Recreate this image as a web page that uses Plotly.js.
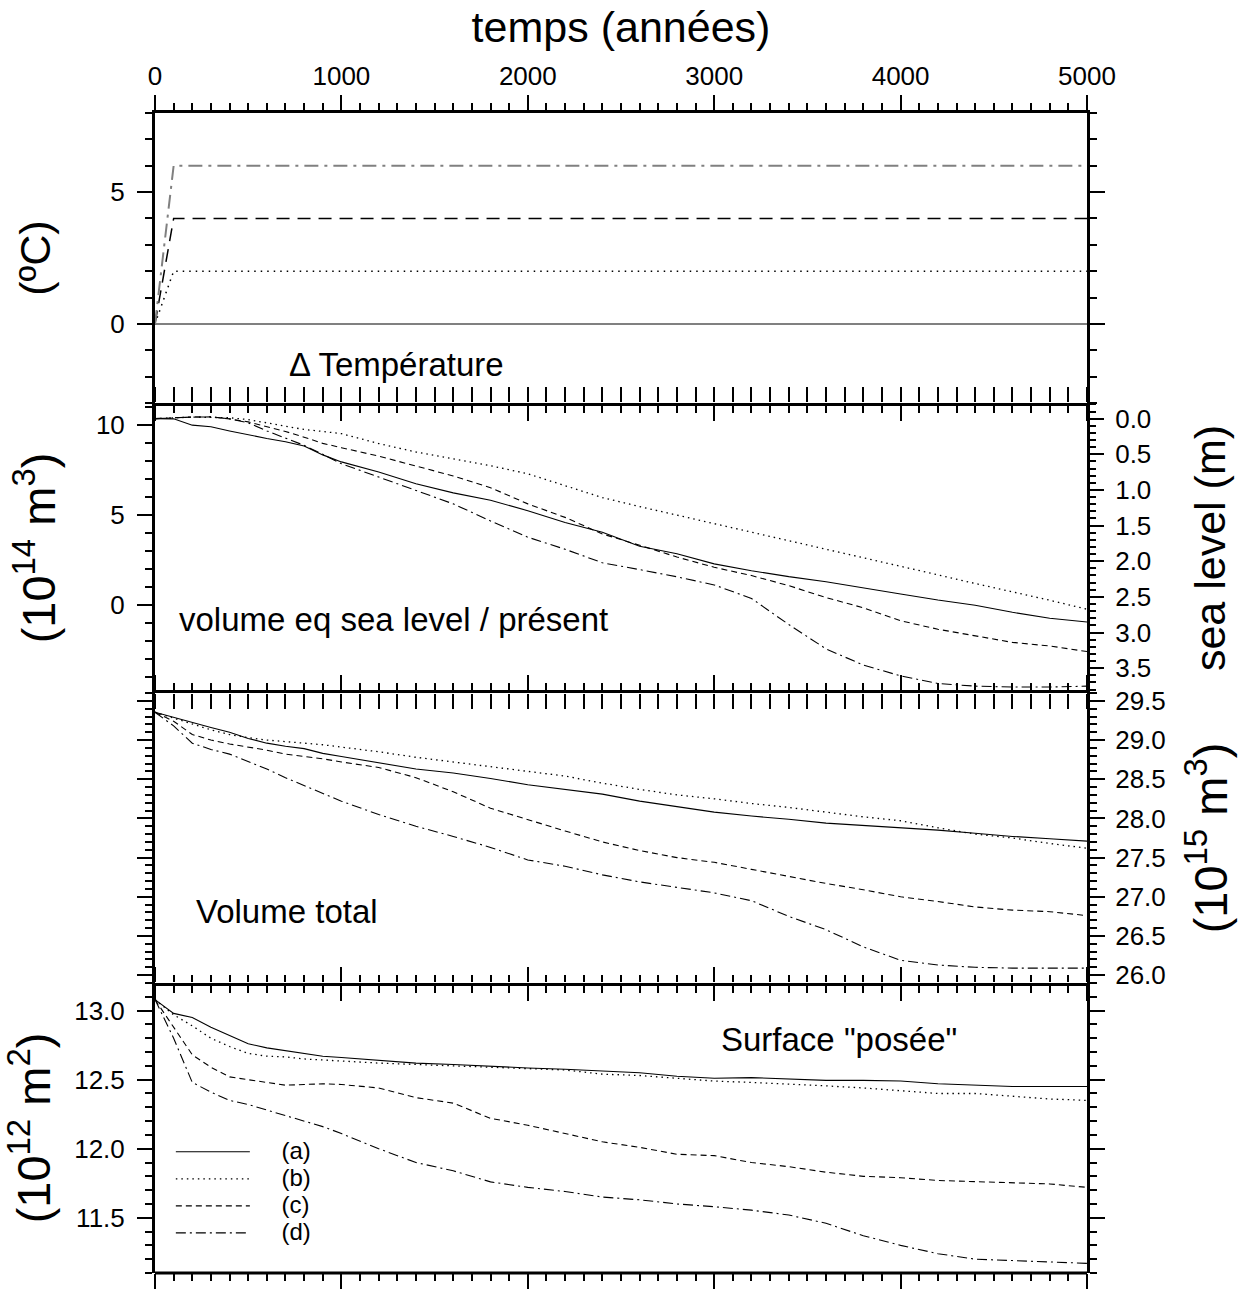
<!DOCTYPE html>
<html>
<head>
<meta charset="utf-8">
<script src="https://cdn.plot.ly/plotly-3.0.1.min.js"></script>
<style>
  html, body { margin: 0; padding: 0; background: #fff; }
  #chart { width: 1238px; height: 1289px; }
</style>
</head>
<body>
<div id="chart"></div>
<script>
// ---------- DATA ----------
const seriesNames = ["(a)", "(b)", "(c)", "(d)"];

// Panel 1 : temperature anomaly (°C)
const yearsTemp = [0, 100, 5000];
const tempA = [0, 0, 0];
const tempB = [0, 2, 2];
const tempC = [0, 4, 4];
const tempD = [0, 6, 6];

// common time grid used for panels 2-4 (years)
const years = [0,100,200,300,400,500,600,700,800,900,1000,1200,1400,1600,1800,2000,
               2200,2400,2600,2800,3000,3200,3400,3600,3800,4000,4200,4400,4600,4800,5000];

// Panel 2 : volume eq. sea level / present (10^14 m3)
const volSlA = [10.33,10.32,9.97,9.88,9.65,9.43,9.23,9.05,8.81,8.32,7.93,7.37,6.72,6.21,5.80,5.22,
                4.57,4.02,3.25,2.83,2.27,1.89,1.56,1.28,0.96,0.60,0.26,-0.03,-0.42,-0.75,-0.96];
const volSlB = [10.33,10.38,10.42,10.40,10.38,10.28,10.10,9.92,9.73,9.62,9.50,8.95,8.48,8.10,7.72,7.27,
                6.60,5.95,5.45,4.98,4.52,4.05,3.58,3.10,2.62,2.15,1.66,1.18,0.72,0.25,-0.25];
const volSlC = [10.33,10.38,10.42,10.43,10.32,10.15,9.90,9.62,9.30,8.96,8.72,8.25,7.70,7.15,6.50,5.60,
                4.85,3.93,3.30,2.65,2.08,1.62,1.06,0.40,-0.17,-0.89,-1.36,-1.74,-2.09,-2.29,-2.60];
const volSlD = [10.33,10.38,10.42,10.43,10.32,10.10,9.65,9.25,8.85,8.35,7.83,7.09,6.35,5.60,4.65,3.75,
                3.08,2.33,1.95,1.55,1.10,0.35,-1.10,-2.45,-3.35,-3.95,-4.37,-4.52,-4.57,-4.57,-4.52];
// sea-level axis : 0 m at 10.33 (10^14 m3), 1 m = 3.957 (10^14 m3)
const seaLevelRef = 10.33;
const volPerMetre = 3.957;
const seaLevelTicks = [0.0, 0.5, 1.0, 1.5, 2.0, 2.5, 3.0, 3.5];

// Panel 3 : total volume (10^15 m3)
const volTotA = [29.355,29.29,29.22,29.16,29.10,29.02,28.96,28.92,28.89,28.83,28.79,28.71,28.63,28.58,28.51,28.43,
                 28.37,28.31,28.22,28.15,28.08,28.03,27.99,27.94,27.91,27.88,27.85,27.81,27.77,27.74,27.71];
const volTotB = [29.355,29.28,29.21,29.13,29.07,29.03,29.00,28.98,28.96,28.94,28.91,28.85,28.78,28.72,28.66,28.60,
                 28.54,28.45,28.37,28.30,28.25,28.19,28.14,28.08,28.02,27.97,27.88,27.80,27.75,27.68,27.62];
const volTotC = [29.355,29.24,29.07,29.00,28.95,28.91,28.87,28.82,28.79,28.76,28.72,28.65,28.52,28.34,28.13,27.98,
                 27.84,27.70,27.59,27.50,27.44,27.35,27.26,27.17,27.09,27.00,26.94,26.87,26.83,26.81,26.76];
const volTotD = [29.355,29.18,28.96,28.88,28.82,28.73,28.63,28.52,28.42,28.31,28.22,28.05,27.90,27.77,27.63,27.47,
                 27.39,27.28,27.19,27.12,27.05,26.95,26.75,26.58,26.36,26.19,26.13,26.10,26.09,26.09,26.09];

// Panel 4 : grounded surface (10^12 m2)
const surfA = [13.08,12.98,12.95,12.88,12.82,12.76,12.73,12.71,12.69,12.67,12.66,12.64,12.62,12.61,12.595,12.585,
               12.575,12.56,12.55,12.525,12.51,12.515,12.505,12.495,12.495,12.49,12.47,12.46,12.45,12.45,12.45];
const surfB = [13.08,12.97,12.89,12.80,12.74,12.69,12.67,12.665,12.65,12.64,12.635,12.62,12.61,12.605,12.59,12.58,
               12.57,12.54,12.53,12.51,12.49,12.48,12.47,12.455,12.44,12.42,12.40,12.40,12.38,12.36,12.35];
const surfC = [13.08,12.88,12.68,12.59,12.52,12.50,12.48,12.46,12.465,12.47,12.465,12.44,12.37,12.33,12.22,12.17,
               12.11,12.05,12.01,11.96,11.95,11.90,11.87,11.83,11.80,11.79,11.77,11.76,11.75,11.745,11.72];
const surfD = [13.08,12.80,12.48,12.41,12.35,12.32,12.28,12.24,12.20,12.16,12.11,12.00,11.90,11.84,11.76,11.72,
               11.69,11.65,11.63,11.60,11.58,11.555,11.52,11.46,11.37,11.30,11.24,11.20,11.19,11.18,11.17];

// ---------- STYLE ----------
const FONT = "Liberation Sans, Arial, Helvetica, sans-serif";
const thin = {
  a: {color: "#000", width: 1.1, dash: "solid"},
  b: {color: "#000", width: 1.3, dash: "1.5px,4px"},
  c: {color: "#000", width: 1.1, dash: "6px,4px"},
  d: {color: "#000", width: 1.1, dash: "10px,4px,2px,4px"}
};
const thick = {
  a: {color: "#808080", width: 2, dash: "solid"},
  b: {color: "#000", width: 1.5, dash: "1.5px,5px"},
  c: {color: "#000", width: 1.5, dash: "13px,8px"},
  d: {color: "#808080", width: 2, dash: "14px,6px,3px,6px"}
};
function legendLabel(name) {
  return '<span style="font-size:24px">\u00a0\u00a0\u00a0\u00a0' + name + '</span>';
}

function tr(x, y, xa, ya, line, name, legend) {
  return {x: x, y: y, xaxis: xa, yaxis: ya, type: "scatter", mode: "lines",
          line: line, name: legend ? legendLabel(name) : name, showlegend: !!legend, hoverinfo: "skip"};
}

const traces = [
  tr(yearsTemp, tempA, "x", "y", thick.a, seriesNames[0]),
  tr(yearsTemp, tempB, "x", "y", thick.b, seriesNames[1]),
  tr(yearsTemp, tempC, "x", "y", thick.c, seriesNames[2]),
  tr(yearsTemp, tempD, "x", "y", thick.d, seriesNames[3]),
  tr(years, volSlA, "x2", "y2", thin.a, seriesNames[0]),
  tr(years, volSlB, "x2", "y2", thin.b, seriesNames[1]),
  tr(years, volSlC, "x2", "y2", thin.c, seriesNames[2]),
  tr(years, volSlD, "x2", "y2", thin.d, seriesNames[3]),
  // empty trace so that the sea-level axis (y5) gets its own subplot
  {x: [], y: [], xaxis: "x2", yaxis: "y5", type: "scatter", mode: "lines", showlegend: false, hoverinfo: "skip"},
  tr(years, volTotA, "x3", "y3", thin.a, seriesNames[0]),
  tr(years, volTotB, "x3", "y3", thin.b, seriesNames[1]),
  tr(years, volTotC, "x3", "y3", thin.c, seriesNames[2]),
  tr(years, volTotD, "x3", "y3", thin.d, seriesNames[3]),
  tr(years, surfA, "x4", "y4", thin.a, seriesNames[0], true),
  tr(years, surfB, "x4", "y4", thin.b, seriesNames[1], true),
  tr(years, surfC, "x4", "y4", thin.c, seriesNames[2], true),
  tr(years, surfD, "x4", "y4", thin.d, seriesNames[3], true)
];

const tickFont = {family: FONT, size: 26, color: "#000"};
const titleFont = {family: FONT, size: 43, color: "#000"};
const supTitleFont = {family: FONT, size: 47, color: "#000"};

function xAxis(anchor, extra) {
  return Object.assign({
    anchor: anchor, domain: [0, 1], range: [0, 5000], tick0: 0, dtick: 1000,
    ticks: "outside", ticklen: 15, tickwidth: 2, tickcolor: "#000",
    minor: {dtick: 100, ticks: "outside", ticklen: 7, tickwidth: 2, tickcolor: "#000", showgrid: false},
    showline: true, linewidth: 3, linecolor: "#000", mirror: "allticks",
    showgrid: false, zeroline: false, showticklabels: false, tickfont: tickFont
  }, extra || {});
}
function yAxis(anchor, domain, range, dtick, minorDtick, extra) {
  return Object.assign({
    anchor: anchor, domain: domain, range: range, tick0: 0, dtick: dtick,
    ticks: "outside", ticklen: 15, tickwidth: 2, tickcolor: "#000",
    minor: {dtick: minorDtick, tick0: 0, ticks: "outside", ticklen: 7, tickwidth: 2, tickcolor: "#000", showgrid: false},
    showline: true, linewidth: 3, linecolor: "#000", mirror: "allticks",
    showgrid: false, zeroline: false, tickfont: tickFont, ticklabelstandoff: 7
  }, extra || {});
}

const vLow = -4.9, vHigh = 11.2;
const annFont = {family: FONT, size: 33, color: "#000"};

const layout = {
  width: 1238, height: 1289,
  margin: {l: 155, r: 151, t: 113, b: 16, pad: 0},
  paper_bgcolor: "#fff", plot_bgcolor: "#fff",
  font: {family: FONT, color: "#000"},
  showlegend: true,
  legend: {
    x: 0.017, y: 0.1205, xanchor: "left", yanchor: "top",
    bgcolor: "rgba(0,0,0,0)", borderwidth: 0,
    font: {family: FONT, size: 18.5, color: "#000"},
    itemwidth: 74, tracegroupgap: 0, itemclick: false, itemdoubleclick: false
  },
  xaxis: xAxis("y", {
    side: "top", showticklabels: true,
    title: {text: "temps (années)", font: titleFont, standoff: 5}
  }),
  xaxis2: xAxis("y2", {matches: "x", showline: false}),
  xaxis3: xAxis("y3", {matches: "x"}),
  xaxis4: xAxis("y4", {matches: "x", showline: false}),
  yaxis: yAxis("x", [0.75, 1], [-3, 8], 5, 1, {
    title: {text: "(ºC)", font: titleFont, standoff: 47}
  }),
  yaxis2: yAxis("x2", [0.5, 0.75], [vLow, vHigh], 5, 1, {
    mirror: false,
    title: {text: "(10<sup>14</sup> m<sup>3</sup>)", font: supTitleFont, standoff: 26}
  }),
  yaxis5: {
    overlaying: "y2", anchor: "x2", side: "right",
    range: [(seaLevelRef - vLow) / volPerMetre, (seaLevelRef - vHigh) / volPerMetre],
    tickmode: "array", tickvals: seaLevelTicks, tickformat: ".1f",
    ticks: "outside", ticklen: 14, tickwidth: 2, tickcolor: "#000",
    minor: {dtick: 0.1, tick0: 0, ticks: "outside", ticklen: 6, tickwidth: 2, tickcolor: "#000", showgrid: false},
    showline: true, linewidth: 3, linecolor: "#000",
    showgrid: false, zeroline: false, tickfont: tickFont, ticklabelstandoff: 6,
    title: {text: "sea level (m)", font: titleFont, standoff: 45}
  },
  yaxis3: yAxis("x3", [0.25, 0.5], [25.9, 29.6], 0.5, 0.1, {
    side: "right", tickformat: ".1f", ticklabelstandoff: 5,
    title: {text: "(10<sup>15</sup> m<sup>3</sup>)", font: supTitleFont, standoff: 30}
  }),
  yaxis4: yAxis("x4", [0, 0.25], [11.1, 13.2], 0.5, 0.1, {
    tickformat: ".1f",
    title: {text: "(10<sup>12</sup> m<sup>2</sup>)", font: supTitleFont, standoff: 10}
  }),
  shapes: [
    // bottom frame line of the lowest panel
    {type: "line", xref: "x4 domain", yref: "y4 domain", x0: 0, x1: 1, y0: 0, y1: 0,
     line: {color: "#000", width: 3}, layer: "above"}
  ],
  annotations: [
    {text: "Δ Température", xref: "x domain", yref: "y domain", x: 0.259, y: 0.134,
     xanchor: "center", yanchor: "middle", showarrow: false, font: annFont},
    {text: "volume eq sea level / présent", xref: "x2 domain", yref: "y2 domain", x: 0.024, y: 0.255,
     xanchor: "left", yanchor: "middle", showarrow: false, font: annFont},
    {text: "Volume total", xref: "x3 domain", yref: "y3 domain", x: 0.042, y: 0.248,
     xanchor: "left", yanchor: "middle", showarrow: false, font: annFont},
    {text: "Surface \"posée\"", xref: "x4 domain", yref: "y4 domain", x: 0.734, y: 0.806,
     xanchor: "center", yanchor: "middle", showarrow: false, font: annFont}
  ]
};

Plotly.newPlot("chart", traces, layout, {displayModeBar: false, staticPlot: true});
</script>
</body>
</html>
